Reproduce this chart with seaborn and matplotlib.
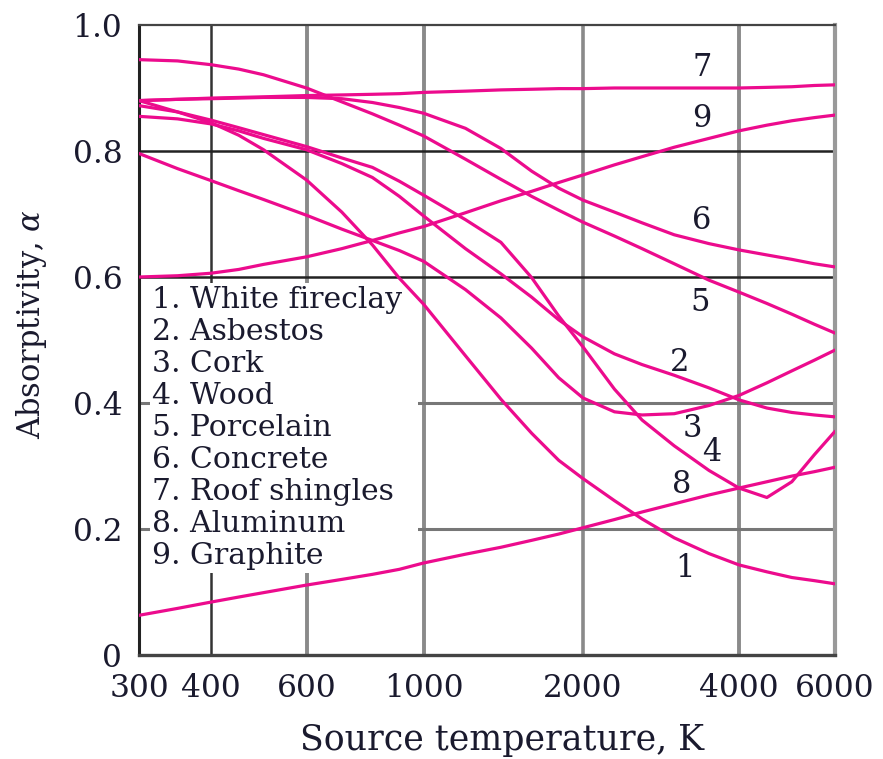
import numpy as np
import pandas as pd
import matplotlib
matplotlib.use("Agg")
import matplotlib.pyplot as plt
import seaborn as sns
from matplotlib.patches import Rectangle
from matplotlib.ticker import FixedLocator, FixedFormatter, NullLocator

# ---------------- data ----------------
T = [300, 350, 400, 450, 500, 600, 700, 800, 900, 1000, 1200, 1400, 1600,
     1800, 2000, 2300, 2600, 3000, 3500, 4000, 4500, 5000, 5500, 6000]

white_fireclay = [0.880, 0.862, 0.845, 0.825, 0.802, 0.754, 0.703, 0.651, 0.598, 0.557, 0.475, 0.406,
                  0.352, 0.309, 0.280, 0.245, 0.216, 0.186, 0.161, 0.143, 0.132, 0.123, 0.118, 0.113]
asbestos = [0.855, 0.851, 0.843, 0.832, 0.820, 0.802, 0.780, 0.758, 0.728, 0.697, 0.645, 0.605,
            0.568, 0.532, 0.505, 0.478, 0.461, 0.444, 0.424, 0.405, 0.392, 0.385, 0.381, 0.378]
cork = [0.796, 0.772, 0.753, 0.737, 0.723, 0.698, 0.676, 0.658, 0.642, 0.625, 0.580, 0.535,
        0.487, 0.440, 0.408, 0.386, 0.381, 0.383, 0.396, 0.412, 0.432, 0.451, 0.468, 0.484]
wood = [0.872, 0.862, 0.849, 0.837, 0.826, 0.807, 0.789, 0.774, 0.752, 0.730, 0.691, 0.655,
        0.599, 0.538, 0.489, 0.422, 0.373, 0.332, 0.293, 0.265, 0.250, 0.275, 0.318, 0.355]
porcelain = [0.945, 0.943, 0.937, 0.930, 0.921, 0.900, 0.878, 0.859, 0.841, 0.824, 0.787, 0.755,
             0.728, 0.706, 0.687, 0.665, 0.645, 0.621, 0.595, 0.576, 0.558, 0.541, 0.525, 0.511]
concrete = [0.880, 0.882, 0.883, 0.884, 0.885, 0.885, 0.883, 0.877, 0.869, 0.860, 0.836, 0.804,
            0.768, 0.741, 0.722, 0.703, 0.686, 0.667, 0.653, 0.643, 0.635, 0.628, 0.621, 0.616]
roof_shingles = [0.880, 0.882, 0.884, 0.885, 0.886, 0.888, 0.889, 0.890, 0.891, 0.893, 0.895, 0.897,
                 0.898, 0.899, 0.899, 0.900, 0.900, 0.900, 0.900, 0.900, 0.901, 0.902, 0.904, 0.905]
aluminum = [0.063, 0.074, 0.084, 0.092, 0.099, 0.111, 0.120, 0.128, 0.136, 0.146, 0.160, 0.171,
            0.182, 0.192, 0.202, 0.215, 0.227, 0.240, 0.254, 0.265, 0.275, 0.284, 0.291, 0.298]
graphite = [0.600, 0.602, 0.606, 0.612, 0.620, 0.632, 0.645, 0.658, 0.670, 0.680, 0.702, 0.721,
            0.736, 0.750, 0.762, 0.778, 0.791, 0.806, 0.820, 0.832, 0.841, 0.848, 0.853, 0.857]

materials = ["1. White fireclay", "2. Asbestos", "3. Cork", "4. Wood", "5. Porcelain",
             "6. Concrete", "7. Roof shingles", "8. Aluminum", "9. Graphite"]
series = [white_fireclay, asbestos, cork, wood, porcelain, concrete, roof_shingles, aluminum, graphite]
curve_numbers = ["1", "2", "3", "4", "5", "6", "7", "8", "9"]

x_ticks = [300, 400, 600, 1000, 2000, 4000, 6000]
x_ticklabels = ["300", "400", "600", "1000", "2000", "4000", "6000"]
y_ticks = [0, 0.2, 0.4, 0.6, 0.8, 1.0]
y_ticklabels = ["0", "0.2", "0.4", "0.6", "0.8", "1.0"]

# ---------------- layout / style ----------------
MAGENTA = "#ec0b8d"
TEXT = "#1a1a2e"
# printed (slightly non-uniform) log axis: screen position of each tick
tick_screen = [139, 211, 306.5, 423.5, 583, 739, 835]
LT = np.log(np.array(x_ticks, float))
P = np.array(tick_screen, float)
s_lo = (P[1] - P[0]) / (LT[1] - LT[0])
s_hi = (P[-1] - P[-2]) / (LT[-1] - LT[-2])


def fwd(x):
    x = np.asarray(x, dtype=float)
    with np.errstate(divide="ignore", invalid="ignore"):
        lx = np.log(x)
    out = np.interp(lx, LT, P)
    out = np.where(lx < LT[0], P[0] + (lx - LT[0]) * s_lo, out)
    out = np.where(lx > LT[-1], P[-1] + (lx - LT[-1]) * s_hi, out)
    return out


def inv(p):
    p = np.asarray(p, dtype=float)
    lx = np.interp(p, P, LT)
    lx = np.where(p < P[0], LT[0] + (p - P[0]) / s_lo, lx)
    lx = np.where(p > P[-1], LT[-1] + (p - P[-1]) / s_hi, lx)
    return np.exp(lx)


sns.set_theme(style="white")
plt.rcParams["font.family"] = ["DejaVu Serif"]
plt.rcParams["mathtext.fontset"] = "dejavuserif"

df = pd.DataFrame({
    "T": np.tile(T, len(materials)),
    "alpha": np.concatenate([np.asarray(s) for s in series]),
    "material": np.repeat(materials, len(T)),
})

fig = plt.figure(figsize=(8.83, 7.59), dpi=100)
ax = fig.add_axes([139 / 883, (759 - 655) / 759, 696 / 883, 630 / 759])

sns.lineplot(data=df, x="T", y="alpha", hue="material", palette=[MAGENTA] * len(materials),
             estimator=None, legend=False, linewidth=2.3, ax=ax, zorder=4)
for ln in ax.get_lines():
    ln.set_solid_joinstyle("round")

ax.set_xscale("function", functions=(fwd, inv))
ax.set_xlim(300, 6000)
ax.set_ylim(0, 1.0)
ax.xaxis.set_major_locator(FixedLocator(x_ticks))
ax.xaxis.set_major_formatter(FixedFormatter(x_ticklabels))
ax.xaxis.set_minor_locator(NullLocator())
ax.yaxis.set_major_locator(FixedLocator(y_ticks))
ax.yaxis.set_major_formatter(FixedFormatter(y_ticklabels))
ax.yaxis.set_minor_locator(NullLocator())
ax.tick_params(axis="both", length=0, labelsize=22.5, colors=TEXT)
ax.tick_params(axis="x", pad=13)
ax.tick_params(axis="y", pad=12)
ax.grid(False)

# grid lines
vgrid = [(400, "#333333", 1.8), (600, "#8a8a8a", 2.8), (1000, "#8a8a8a", 2.8),
         (2000, "#8a8a8a", 2.6), (4000, "#8a8a8a", 2.8)]
for xv, c, lw in vgrid:
    ax.axvline(xv, color=c, lw=lw, zorder=1)
hgrid = [(0.8, "#222222", 1.8), (0.6, "#222222", 1.8), (0.4, "#777777", 2.2), (0.2, "#777777", 2.2)]
for yv, c, lw in hgrid:
    ax.axhline(yv, color=c, lw=lw, zorder=1)

# white area behind the key
ax.add_patch(Rectangle((313, 0.13), 976 - 313, 0.59 - 0.13, facecolor="white",
                       edgecolor="none", zorder=2))

# spines
for side, c, lw in [("left", "#222222", 2.2), ("bottom", "#444444", 2.4),
                    ("right", "#999999", 3.0), ("top", "#444444", 1.6)]:
    ax.spines[side].set_visible(True)
    ax.spines[side].set_color(c)
    ax.spines[side].set_linewidth(lw)
    ax.spines[side].set_zorder(3)

# key text
for i, name in enumerate(materials):
    ax.text(0.0187, 0.563 - i * 0.0508, name, transform=ax.transAxes, ha="left", va="center",
            fontsize=21.5, color=TEXT, zorder=5)

# curve numbers
label_pos = [(0.784, 0.138), (0.777, 0.465), (0.795, 0.360), (0.823, 0.321), (0.806, 0.559),
             (0.809, 0.690), (0.809, 0.932), (0.780, 0.270), (0.809, 0.852)]
for num, (xf, yf) in zip(curve_numbers, label_pos):
    ax.text(xf, yf, num, transform=ax.transAxes, ha="center", va="center",
            fontsize=22, color=TEXT, zorder=5)

ax.set_xlabel("Source temperature, K", fontsize=25, color=TEXT, va="center")
ax.xaxis.set_label_coords(0.522, -0.135)
ax.set_ylabel("Absorptivity, $\\alpha$", fontsize=22, color=TEXT, va="center")
ax.yaxis.set_label_coords(-0.154, 0.525)

fig.savefig("out.png", dpi=100)
